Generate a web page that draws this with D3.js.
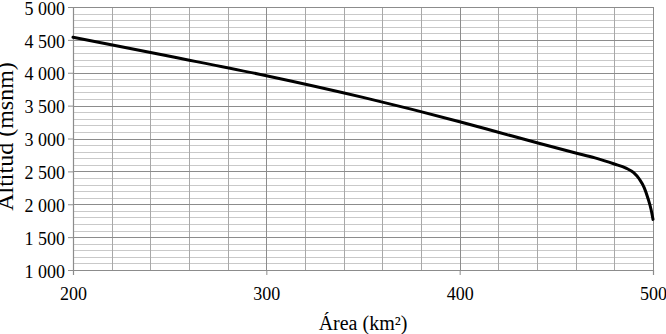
<!DOCTYPE html>
<html>
<head>
<meta charset="utf-8">
<script src="https://cdn.jsdelivr.net/npm/d3@7"></script>
<style>
  html, body { margin: 0; padding: 0; background: #fff; overflow: hidden; }
</style>
</head>
<body>
<div id="chart"></div>
<script>
// Hypsometric curve: area (km²) vs altitude (msnm)
const areaValues = [200, 250, 300, 350, 400, 420, 440, 460, 470, 480, 486, 490, 493, 495.5, 497.5, 499, 500];
const altValues  = [4540, 4250, 3955, 3625, 3255, 3095, 2935, 2780, 2705, 2612, 2550, 2480, 2380, 2250, 2080, 1920, 1770];

const xTicks = [200, 300, 400, 500];
const yTicks = [1000, 1500, 2000, 2500, 3000, 3500, 4000, 4500, 5000];

const xTitle = 'Área (km²)';
const yTitle = 'Altitud (msnm)';

const FONT = '"Liberation Serif", "Times New Roman", serif';

const W = 666, H = 334;
const margin = { top: 7, right: 13, bottom: 64, left: 73 };
const width = W - margin.left - margin.right;
const height = H - margin.top - margin.bottom;

const svg = d3.select('#chart')
  .append('svg')
  .attr('width', W)
  .attr('height', H)
  .attr('font-family', FONT);

const g = svg.append('g')
  .attr('transform', `translate(${margin.left},${margin.top})`);

const x = d3.scaleLinear().domain([200, 500]).range([0, width]);
const y = d3.scaleLinear().domain([1000, 5000]).range([height, 0]);

const px = v => Math.round(v) + 0.5;

// Minor horizontal grid (every 100)
g.append('g')
  .selectAll('line')
  .data(d3.range(1100, 5000, 100).filter(v => v % 500 !== 0))
  .join('line')
  .attr('x1', 0).attr('x2', width)
  .attr('y1', d => px(y(d))).attr('y2', d => px(y(d)))
  .attr('stroke', '#c9c9c9');

// Minor vertical grid (every 20)
g.append('g')
  .selectAll('line')
  .data(d3.range(220, 500, 20).filter(v => v % 100 !== 0))
  .join('line')
  .attr('y1', 0).attr('y2', height)
  .attr('x1', d => px(x(d))).attr('x2', d => px(x(d)))
  .attr('stroke', '#a8a8a8');

// Major horizontal grid
g.append('g')
  .selectAll('line')
  .data(yTicks.slice(1))
  .join('line')
  .attr('x1', 0).attr('x2', width)
  .attr('y1', d => px(y(d))).attr('y2', d => px(y(d)))
  .attr('stroke', '#8c8c8c');

// Major vertical grid
g.append('g')
  .selectAll('line')
  .data(xTicks.slice(1))
  .join('line')
  .attr('y1', 0).attr('y2', height)
  .attr('x1', d => px(x(d))).attr('x2', d => px(x(d)))
  .attr('stroke', '#8c8c8c');

// Axes
const fmtY = d => String(d).replace(/^(\d)(\d{3})$/, '$1 $2');

const yAxis = g.append('g')
  .call(d3.axisLeft(y).tickValues(yTicks).tickFormat(fmtY).tickSize(5).tickPadding(3));
const xAxis = g.append('g')
  .attr('transform', `translate(0,${height})`)
  .call(d3.axisBottom(x).tickValues(xTicks).tickFormat(d => d).tickSize(5).tickPadding(12));

[yAxis, xAxis].forEach(ax => {
  ax.attr('font-family', null).attr('font-size', null);
  ax.select('.domain').attr('stroke', '#8c8c8c').attr('stroke-width', 1.2);
  ax.selectAll('.tick line').attr('stroke', '#8c8c8c');
  ax.selectAll('.tick text')
    .attr('fill', '#000')
    .style('font-family', FONT)
    .style('font-size', '18px');
});
yAxis.selectAll('.tick text').attr('dy', '0.4em');

// Curve
const data = areaValues.map((a, i) => ({ area: a, alt: altValues[i] }));
g.append('path')
  .datum(data)
  .attr('fill', 'none')
  .attr('stroke', '#000')
  .attr('stroke-width', 3)
  .attr('stroke-linecap', 'round')
  .attr('d', d3.line()
    .x(d => x(d.area))
    .y(d => y(d.alt))
    .curve(d3.curveMonotoneX));

// Axis titles
svg.append('text')
  .attr('x', margin.left + width / 2)
  .attr('y', 330)
  .attr('text-anchor', 'middle')
  .attr('font-size', 20)
  .attr('fill', '#000')
  .text(xTitle);

svg.append('text')
  .attr('transform', `translate(13,${margin.top + height / 2 - 2}) rotate(-90)`)
  .attr('text-anchor', 'middle')
  .attr('font-size', 24)
  .attr('fill', '#000')
  .text(yTitle);
</script>
</body>
</html>
